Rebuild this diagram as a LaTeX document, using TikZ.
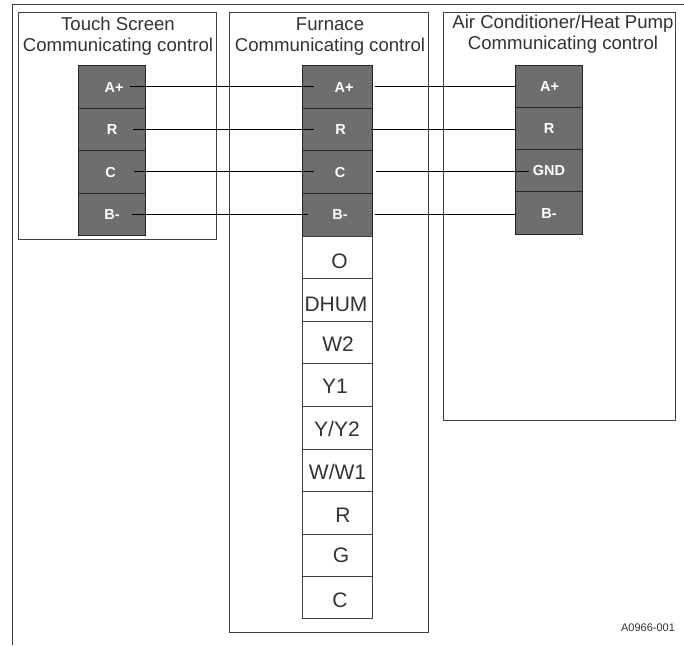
\documentclass[tikz,border=0pt]{standalone}
\usepackage{fontspec}
\setmainfont{Liberation Sans}
\definecolor{term}{HTML}{6D6E70}
\definecolor{ink}{HTML}{333333}
\newcommand{\cellfill}[7]{% name x0 y0 x1 y1 xtext label
  \node[termcell,minimum width=#4pt-#2pt,minimum height=#5pt-#3pt] (#1) at ({(#2+#4)/2},{(#3+#5)/2}) {};
  \node[termlabel] (#1t) at (#6,{(#3+#5)/2+0.5}) {#7};}
\newcommand{\cellwhite}[8]{% name x0 y0 x1 y1 xtext ytext label
  \node[plaincell,minimum width=#4pt-#2pt,minimum height=#5pt-#3pt] (#1) at ({(#2+#4)/2},{(#3+#5)/2}) {};
  \node[plainlabel] (#1t) at (#6,#7) {#8};}
\tikzset{
  frameline/.style={draw=black!75,line width=1.5pt},
  unitbox/.style={draw=black!75,line width=0.9pt,fill=white},
  termcell/.style={draw=black!85,line width=1pt,fill=term,inner sep=0pt,outer sep=0pt},
  termlabel/.style={text=white,font=\fontsize{14.5}{15}\selectfont\bfseries,inner sep=0pt},
  plaincell/.style={draw=black!75,line width=0.9pt,fill=white,inner sep=0pt,outer sep=0pt},
  plainlabel/.style={text=ink,font=\fontsize{21}{22}\selectfont,inner sep=0pt},
  titletext/.style={text=ink,font=\fontsize{18.6}{21}\selectfont,align=center,inner sep=0pt},
  wire/.style={draw=black,line width=0.8pt},
}
\begin{document}
\begin{tikzpicture}[x=1pt,y=-1pt]
\useasboundingbox (0,0) rectangle (684,645);
\fill[white] (0,0) rectangle (684,645);
\coordinate (fa) at (12.5,645);
\coordinate (fb) at (12.5,4.5);
\coordinate (fc) at (684,4.5);
\draw[frameline] (fa) -- (fb) -- (fc);
% unit boxes
\node[unitbox,minimum width=198pt,minimum height=226.5pt,inner sep=0pt] (touch) at (117,125.75) {};
\node[unitbox,minimum width=198.5pt,minimum height=619.5pt,inner sep=0pt] (furn) at (328.75,322.25) {};
\node[unitbox,minimum width=232pt,minimum height=407.5pt,inner sep=0pt] (ac) at (559,216.25) {};
% titles
\node[titletext] (t1) at (118,36.5) {Touch Screen\\Communicating control};
\node[titletext] (t2) at (330,37) {Furnace\\Communicating control};
\node[titletext] (t3) at (563,34.5) {Air Conditioner/Heat Pump\\Communicating control};
% touch terminals
\cellfill{ta}{78.5}{65.5}{145.5}{108}{114}{A+}
\cellfill{tr}{78.5}{108}{145.5}{150.5}{112}{R}
\cellfill{tc}{78.5}{150.5}{145.5}{193}{110.5}{C}
\cellfill{tb}{78.5}{193}{145.5}{235.5}{112}{B-}
% furnace terminals
\cellfill{fa1}{302}{65.5}{372}{108}{344}{A+}
\cellfill{fr1}{302}{108}{372}{150.5}{340.5}{R}
\cellfill{fc1}{302}{150.5}{372}{193}{340}{C}
\cellfill{fb1}{302}{193}{372}{236}{340}{B-}
% AC terminals
\cellfill{aa}{515.5}{65}{582.5}{107.5}{549.5}{A+}
\cellfill{ar}{515.5}{107.5}{582.5}{149.5}{549}{R}
\cellfill{ac1}{515.5}{149.5}{582.5}{191.5}{549}{GND}
\cellfill{ab}{515.5}{191.5}{582.5}{234}{549}{B-}
% furnace low-voltage terminals
\cellwhite{w1}{302}{236}{372}{278.5}{339.5}{261.5}{O}
\cellwhite{w2}{302}{278.5}{372}{321}{336}{304}{DHUM}
\cellwhite{w3}{302}{321}{372}{363.5}{338}{344.5}{W2}
\cellwhite{w4}{302}{363.5}{372}{406}{335}{386.5}{Y1}
\cellwhite{w5}{302}{406}{372}{449}{337}{429}{Y/Y2}
\cellwhite{w6}{302}{449}{372}{491.5}{337.5}{472}{W/W1}
\cellwhite{w7}{302}{491.5}{372}{534}{343}{515}{R}
\cellwhite{w8}{302}{534}{372}{576.5}{341}{555.5}{G}
\cellwhite{w9}{302}{576.5}{372}{618.5}{340}{600}{C}
% wire ends
\coordinate (s1) at (130,86.5);
\coordinate (e1) at (314,86.5);
\coordinate (s2) at (133,129);
\coordinate (e2) at (313.5,129);
\coordinate (s3) at (134,171.5);
\coordinate (e3) at (314,171.5);
\coordinate (s4) at (131.5,214);
\coordinate (e4) at (308,214);
\coordinate (g1) at (375,86.5);
\coordinate (g2) at (370.5,129);
\coordinate (g3) at (376,171.5);
\coordinate (g4) at (375,214);
\coordinate (h1) at (515.5,86.5);
\coordinate (h2) at (515.5,129);
\coordinate (h3) at (529,171.5);
\coordinate (h4) at (515.5,214);
\draw[wire] (s1) -- (e1);
\draw[wire] (s2) -- (e2);
\draw[wire] (s3) -- (e3);
\draw[wire] (s4) -- (e4);
\draw[wire] (g1) -- (h1);
\draw[wire] (g2) -- (h2);
\draw[wire] (g3) -- (h3);
\draw[wire] (g4) -- (h4);
\node[text=ink,font=\fontsize{11}{12}\selectfont,inner sep=0pt] (code) at (648,628) {A0966-001};
\end{tikzpicture}
\end{document}
